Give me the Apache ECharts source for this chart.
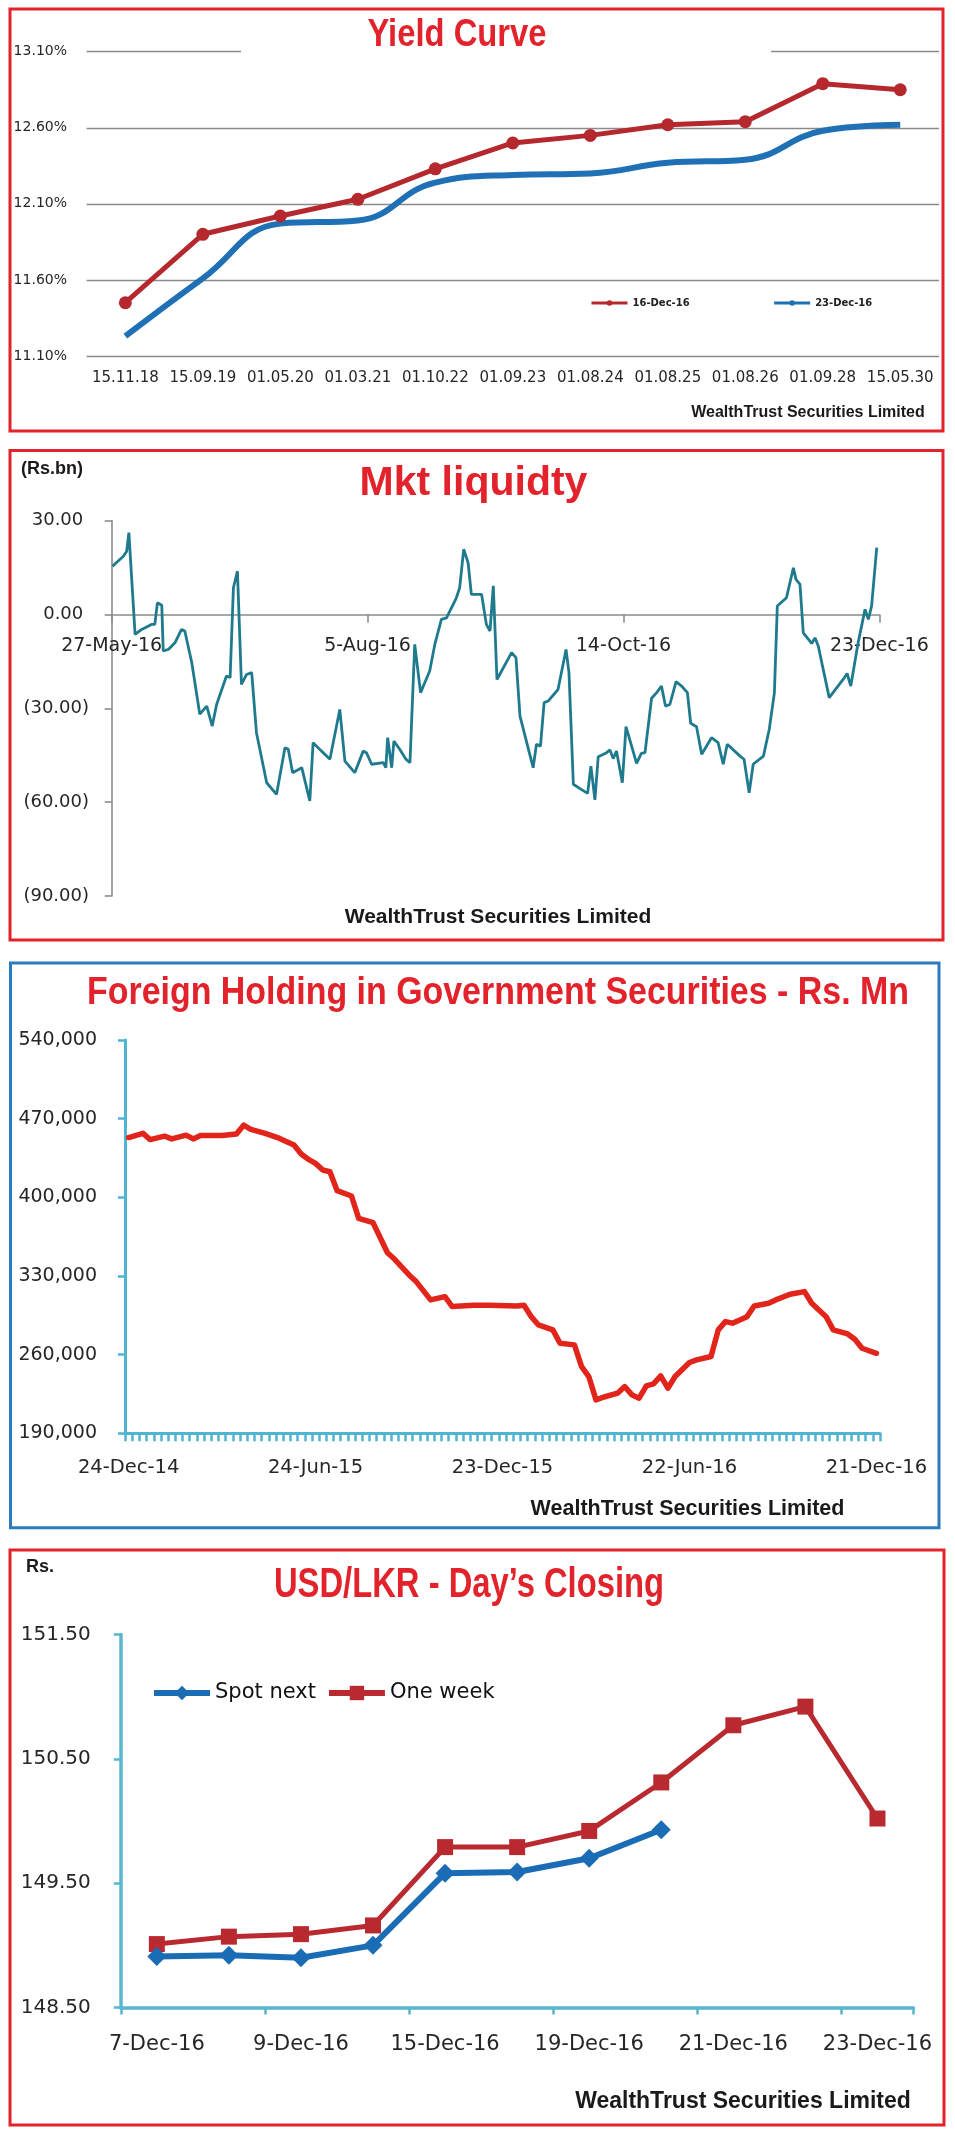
<!DOCTYPE html>
<html><head><meta charset="utf-8">
<script src="https://cdn.jsdelivr.net/npm/echarts/dist/echarts.min.js"></script>
<style>html,body{margin:0;padding:0;background:#fff}#c{width:955px;height:2137px}</style>
</head><body><div id="c"></div>
<script>
// ---------- Yield curve ----------
const yieldMaturities = ['15.11.18','15.09.19','01.05.20','01.03.21','01.10.22','01.09.23','01.08.24','01.08.25','01.08.26','01.09.28','15.05.30'];
const yield16Dec = [11.45, 11.90, 12.02, 12.13, 12.33, 12.50, 12.55, 12.62, 12.64, 12.89, 12.85];
const yield23Dec = [11.23, 11.61, 11.97, 11.99, 12.24, 12.29, 12.30, 12.37, 12.39, 12.58, 12.62];

// ---------- Market liquidity (Rs.bn), x = days since 27-May-16 ----------
const liqTickLabels = ['27-May-16','5-Aug-16','14-Oct-16','23-Dec-16'];
const liqDay = [0.2,3.2,4.1,4.7,6.4,8.2,10.9,11.8,12.5,13.7,14.1,15.5,17.3,19.1,20.0,21.9,24.1,26.0,27.5,28.7,31.4,32.4,33.3,34.4,35.5,36.9,38.3,39.6,42.4,45.1,47.4,48.3,49.5,52.0,54.2,55.1,57.4,59.7,62.4,63.8,66.5,68.8,69.7,71.1,74.3,75.0,75.5,76.6,77.2,78.8,80.5,81.6,82.9,84.5,87.0,88.4,90.2,91.6,94.3,95.2,96.3,97.5,98.4,101.2,102.5,103.5,104.4,105.4,109.4,110.6,111.7,115.3,116.2,117.3,118.3,119.4,122.1,124.3,125.1,126.3,128.1,130.2,131.1,132.2,133.1,135.4,136.3,137.2,138.1,139.7,140.7,143.6,144.9,145.9,147.7,149.1,150.4,151.5,152.7,154.4,155.9,157.5,158.4,160.0,161.4,164.1,165.9,167.3,168.4,171.9,173.0,174.4,175.5,178.3,179.9,181.3,182.1,184.6,186.5,187.2,188.3,189.2,191.5,192.4,193.3,196.3,200.1,201.2,202.2,204.2,206.1,207.0,207.9,209.3];
const liqVal = [15.4,18.6,20.2,26.1,-6.4,-4.8,-3.2,-3.2,3.7,2.9,-11.7,-11.2,-9.1,-4.8,-5.3,-15.4,-31.9,-29.3,-35.7,-28.8,-19.7,-20.2,8.5,13.8,-22.4,-19.2,-18.6,-37.8,-53.8,-57.5,-42.6,-43.1,-50.6,-49.0,-59.6,-41.0,-43.7,-46.3,-30.4,-46.9,-50.6,-43.7,-44.2,-47.9,-47.4,-49.0,-39.4,-49.0,-40.5,-43.1,-46.3,-47.4,-9.6,-25.0,-18.1,-9.6,-1.6,-1.1,5.3,8.5,20.8,16.5,6.4,6.4,-3.2,-5.3,9.1,-20.8,-12.2,-13.8,-32.5,-49.0,-41.5,-42.1,-28.2,-27.7,-24.0,-11.2,-18.6,-54.3,-55.7,-57.2,-48.5,-59.3,-45.5,-44.2,-43.3,-46.1,-43.7,-53.8,-35.9,-47.6,-44.4,-44.2,-26.8,-25.0,-22.9,-29.3,-28.8,-21.5,-22.9,-25.0,-34.8,-35.9,-44.7,-39.4,-41.0,-47.9,-41.5,-45.3,-46.3,-57.0,-47.9,-45.3,-36.7,-25.0,2.7,5.3,14.9,11.2,9.6,-5.9,-9.3,-7.5,-10.1,-26.6,-20.8,-18.9,-22.9,-9.1,1.6,-1.6,2.7,21.3];

// ---------- Foreign holding (Rs. Mn), weekly, x = week index from 24-Dec-14 ----------
const fhTickLabels = ['24-Dec-14','24-Jun-15','23-Dec-15','22-Jun-16','21-Dec-16'];
const fhWeeks = 105;
const fhIdx = [0,2,3,5,6,8,9,10,13,15,16,17,19,21,23,24,25,26,27,28,29,31,32,34,36,37,39,40,42,44,45,48,50,54,55,56,57,59,60,62,63,64,65,66,68,69,70,71,72,73,74,75,76,78,79,81,82,83,84,86,87,89,90,92,94,95,97,98,100,101,102,104];
const fhVal = [453200,456900,451400,454400,452000,455300,452000,455000,455000,456300,464200,460400,456900,452400,446500,438500,433800,430200,424300,422800,405900,401200,381300,377400,350700,344800,330900,325000,308700,311600,302800,303900,303900,303300,303900,293800,286400,282000,270100,268700,249400,240500,219700,222100,225700,231600,224200,221200,232200,234000,241100,230100,240500,253000,255300,258300,282000,289400,288000,293800,303300,305700,308700,313700,316100,305700,293800,282000,278400,273700,265700,261200];

// ---------- USD/LKR ----------
const fxDates = ['7-Dec-16','8-Dec-16','9-Dec-16','12-Dec-16','15-Dec-16','16-Dec-16','19-Dec-16','20-Dec-16','21-Dec-16','22-Dec-16','23-Dec-16'];
const fxSpotNext = [148.91,148.92,148.90,149.00,149.58,149.59,149.70,149.93,null,null,null];
const fxOneWeek = [149.01,149.07,149.09,149.16,149.79,149.79,149.92,150.31,150.77,150.92,150.02];

// ---------- build ----------
const AX = 'DejaVu Sans';
const LAB = '#262626';
const RED_T = '#e2232b';
const LBLUE = '#4fb4d2';

const fhCats = Array.from({length: fhWeeks}, (_, i) => (i % 26 === 0 ? fhTickLabels[i / 26] : 'w' + i));

function txt(x, y, text, font, fill, align, sx) {
  return {type: 'text', x: x, y: y, z: 50, scaleX: sx || 1,
    style: {text: text, font: font, fill: fill || '#1a1a1a', align: align || 'center', verticalAlign: 'middle',
            textAlign: align || 'center', textVerticalAlign: 'middle'}};
}
function box(x, y, w, h, color) {
  return {type: 'rect', z: 60, shape: {x: x, y: y, width: w, height: h},
    style: {fill: 'none', stroke: color, lineWidth: 3}};
}

const chart = echarts.init(document.getElementById('c'), null, {renderer: 'canvas'});
chart.setOption({
  animation: false,
  backgroundColor: '#fff',
  grid: [
    {left: 86.6, top: 51.7, width: 852.4, height: 304.3},
    {left: 111.7, top: 520.5, width: 767.6, height: 375.5},
    {left: 125, top: 1040, width: 755, height: 393.3},
    {left: 120.8, top: 1634.5, width: 792.7, height: 373}
  ],
  legend: [
    {data: ['16-Dec-16', '23-Dec-16'], left: 590, top: 298, padding: 0, itemWidth: 36, itemHeight: 7, itemGap: 83,
     lineStyle: {width: 3},
     textStyle: {fontFamily: AX, fontSize: 10, fontWeight: 'bold', color: '#222'}},
    {data: ['Spot next', 'One week'], left: 151, top: 1682.5, padding: 0, itemWidth: 56, itemHeight: 18, itemGap: 10,
     lineStyle: {width: 6},
     textStyle: {fontFamily: AX, fontSize: 21, color: '#111'}}
  ],
  xAxis: [
    {type: 'category', gridIndex: 0, data: yieldMaturities, boundaryGap: true,
     axisLine: {show: false}, axisTick: {show: false},
     axisLabel: {interval: 0, margin: 15, fontFamily: AX, fontSize: 15, color: LAB}},
    {type: 'value', gridIndex: 1, min: 0, max: 210, interval: 70,
     axisLine: {show: true, onZero: true, lineStyle: {color: '#8c8c8c', width: 1.6}},
     axisTick: {show: true, length: 8, lineStyle: {color: '#8c8c8c', width: 1.6}},
     splitLine: {show: false},
     axisLabel: {margin: -259, fontFamily: AX, fontSize: 19, color: LAB,
                 formatter: v => liqTickLabels[Math.round(v / 70)] || ''}},
    {type: 'category', gridIndex: 2, data: fhCats, boundaryGap: true,
     axisLine: {lineStyle: {color: LBLUE, width: 3}},
     axisTick: {show: true, interval: 0, length: 8, lineStyle: {color: LBLUE, width: 2.5}},
     axisLabel: {interval: 25, margin: 25, fontFamily: AX, fontSize: 19.5, color: LAB}},
    {type: 'category', gridIndex: 3, data: fxDates, boundaryGap: true,
     axisLine: {lineStyle: {color: '#5ab6cf', width: 3.5}},
     axisTick: {show: true, length: 7, lineStyle: {color: '#5ab6cf', width: 2.5}},
     axisLabel: {interval: 1, margin: 27, fontFamily: AX, fontSize: 21, color: LAB}}
  ],
  yAxis: [
    {type: 'value', gridIndex: 0, min: 11.1, max: 13.1, interval: 0.5,
     axisLine: {show: false}, axisTick: {show: false},
     splitLine: {show: true, lineStyle: {color: '#8a8a8a', width: 1.4}},
     axisLabel: {margin: 19.6, fontFamily: AX, fontSize: 14, color: LAB, formatter: v => v.toFixed(2) + '%'}},
    {type: 'value', gridIndex: 1, min: -90, max: 30, interval: 30,
     axisLine: {show: true, lineStyle: {color: '#8c8c8c', width: 1.6}},
     axisTick: {show: true, length: 7, lineStyle: {color: '#8c8c8c', width: 1.6}},
     splitLine: {show: false},
     axisLabel: {margin: 22.7, fontFamily: AX, fontSize: 18, color: LAB,
                 formatter: v => v < 0 ? '(' + Math.abs(v).toFixed(2) + ')' : v.toFixed(2) + ' '}},
    {type: 'value', gridIndex: 2, min: 190000, max: 540000, interval: 70000,
     axisLine: {show: true, lineStyle: {color: LBLUE, width: 3}},
     axisTick: {show: true, length: 7, lineStyle: {color: LBLUE, width: 2.5}},
     splitLine: {show: false},
     axisLabel: {margin: 28, fontFamily: AX, fontSize: 19, color: LAB,
                 formatter: v => Math.round(v).toLocaleString('en-US')}},
    {type: 'value', gridIndex: 3, min: 148.5, max: 151.5, interval: 1,
     axisLine: {show: true, lineStyle: {color: '#5ab6cf', width: 3.5}},
     axisTick: {show: true, length: 7, lineStyle: {color: '#5ab6cf', width: 2.5}},
     splitLine: {show: false},
     axisLabel: {margin: 30, fontFamily: AX, fontSize: 20, color: LAB, formatter: v => v.toFixed(2)}}
  ],
  series: [
    {name: '16-Dec-16', type: 'line', xAxisIndex: 0, yAxisIndex: 0, data: yield16Dec,
     symbol: 'circle', symbolSize: 13, z: 3,
     lineStyle: {color: '#b5282e', width: 5}, itemStyle: {color: '#b5282e'}},
    {name: '23-Dec-16', type: 'line', xAxisIndex: 0, yAxisIndex: 0, data: yield23Dec,
     symbol: 'none', smooth: 0.45, z: 2,
     lineStyle: {color: '#1f70b5', width: 6}, itemStyle: {color: '#1f70b5'}},
    {name: 'Liquidity', type: 'line', xAxisIndex: 1, yAxisIndex: 1,
     data: liqDay.map((d, i) => [d, liqVal[i]]), symbol: 'none',
     lineStyle: {color: '#1f7a8e', width: 2.8}},
    {name: 'Foreign', type: 'line', xAxisIndex: 2, yAxisIndex: 2,
     data: fhIdx.map((d, i) => [d, fhVal[i]]), symbol: 'none',
     lineStyle: {color: '#e1251b', width: 5.5, join: 'round', cap: 'round'}},
    {name: 'Spot next', type: 'line', xAxisIndex: 3, yAxisIndex: 3, data: fxSpotNext,
     symbol: 'diamond', symbolSize: 19, z: 4,
     lineStyle: {color: '#1a6db5', width: 6}, itemStyle: {color: '#1a6db5'}},
    {name: 'One week', type: 'line', xAxisIndex: 3, yAxisIndex: 3, data: fxOneWeek,
     symbol: 'rect', symbolSize: 16, z: 3,
     lineStyle: {color: '#b92a30', width: 5}, itemStyle: {color: '#b92a30'}}
  ],
  graphic: [
    // panel borders
    box(10, 9, 933, 422, RED_T),
    box(10, 450.5, 933, 489.5, RED_T),
    box(10.5, 963, 928.5, 564.7, '#2b7bbd'),
    box(10, 1550, 934, 575, RED_T),
    // title gap over the top gridline of the yield curve
    {type: 'rect', z: 40, shape: {x: 241, y: 46, width: 530, height: 11}, style: {fill: '#fff'}},
    // titles (condensed bold look)
    txt(457, 35, 'Yield Curve', 'bold 39px "Liberation Sans"', RED_T, 'center', 0.84),
    txt(473.5, 484, 'Mkt liquidty', 'bold 41px "Liberation Sans"', RED_T, 'center', 1.0),
    txt(498, 993.5, 'Foreign Holding in Government Securities - Rs. Mn', 'bold 39px "Liberation Sans"', RED_T, 'center', 0.87),
    txt(469, 1585, 'USD/LKR - Day\u2019s Closing', 'bold 42px "Liberation Sans"', RED_T, 'center', 0.78),
    // units
    txt(21, 469, '(Rs.bn)', 'bold 18px "Liberation Sans"', '#1a1a1a', 'left'),
    txt(26, 1567, 'Rs.', 'bold 18px "Liberation Sans"', '#1a1a1a', 'left'),
    // sources
    txt(808, 413, 'WealthTrust Securities Limited', 'bold 16px "Liberation Sans"'),
    txt(498, 917, 'WealthTrust Securities Limited', 'bold 21px "Liberation Sans"'),
    txt(687.5, 1509, 'WealthTrust Securities Limited', 'bold 21.5px "Liberation Sans"'),
    txt(743, 2101.5, 'WealthTrust Securities Limited', 'bold 23px "Liberation Sans"')
  ]
});
</script></body></html>
